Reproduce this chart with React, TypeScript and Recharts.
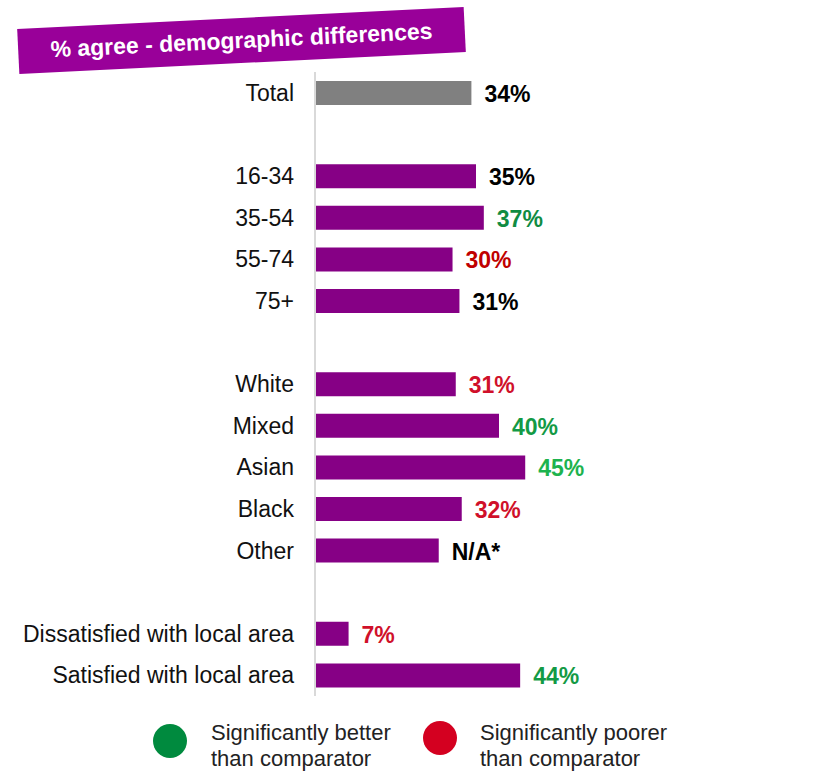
import { BarChart, Bar, XAxis, YAxis, Cell, LabelList } from 'recharts';

// rows, blank entries are spacer rows between groups
const categories = [
  'Total', ' ', '16-34', '35-54', '55-74', '75+', '  ',
  'White', 'Mixed', 'Asian', 'Black', 'Other', '   ',
  'Dissatisfied with local area', 'Satisfied with local area',
];
const values = [34, null, 35, 36.7, 29.9, 31.4, null, 30.6, 40, 45.7, 31.9, 26.9, null, 7.3, 44.6];
const labels = ['34%', '', '35%', '37%', '30%', '31%', '', '31%', '40%', '45%', '32%', 'N/A*', '', '7%', '44%'];
const labelColors = [
  '#000000', '', '#000000', '#108c42', '#c00000', '#000000', '',
  '#d0102a', '#139a45', '#1db34e', '#d0102a', '#000000', '',
  '#d0102a', '#139a45',
];

const data = categories.map((name, i) => ({
  id: i,
  name,
  value: values[i],
  label: labels[i],
  color: labelColors[i],
}));

const FONT = '"Liberation Sans", Arial, sans-serif';

const ValueLabel = (props: any) => {
  const { x, y, width, height, value } = props;
  const row = data[value];
  if (!row || !row.label) return null;
  return (
    <text
      x={x + width + 13}
      y={y + height / 2 + 1}
      dominantBaseline="central"
      fill={row.color}
      fontSize={23}
      fontWeight="bold"
      fontFamily={FONT}
    >
      {row.label}
    </text>
  );
};

export default function App() {
  return (
    <div style={{ position: 'absolute', left: 0, top: 0, width: 825, height: 774, background: '#fff', fontFamily: FONT }}>
      <div
        style={{
          position: 'absolute',
          left: 18,
          top: 18,
          width: 447,
          height: 45,
          background: '#990099',
          color: '#fff',
          fontWeight: 'bold',
          fontSize: 23,
          display: 'flex',
          alignItems: 'center',
          justifyContent: 'center',
          transform: 'rotate(-2.8deg)',
        }}
      >
        % agree - demographic differences
      </div>
      <BarChart
        width={825}
        height={720}
        data={data}
        layout="vertical"
        margin={{ top: 72, right: 50, bottom: 24, left: 0 }}
      >
        <XAxis type="number" domain={[0, 100]} hide />
        <YAxis
          type="category"
          dataKey="name"
          width={315}
          tickSize={0}
          tickMargin={21}
          tickLine={false}
          axisLine={{ stroke: '#d9d9d9', strokeWidth: 2 }}
          interval={0}
          tick={{ fill: '#111', fontSize: 23, fontFamily: FONT }}
        />
        <Bar dataKey="value" barSize={24} isAnimationActive={false}>
          {data.map((d, i) => (
            <Cell key={i} fill={d.name === 'Total' ? '#808080' : '#860085'} />
          ))}
          <LabelList dataKey="id" content={<ValueLabel />} />
        </Bar>
      </BarChart>
      <div style={{ position: 'absolute', left: 153, top: 724, width: 34, height: 34, borderRadius: '50%', background: '#008a3e' }} />
      <div style={{ position: 'absolute', left: 211, top: 720, fontSize: 22, lineHeight: '26px', color: '#222' }}>
        Significantly better
        <br />
        than comparator
      </div>
      <div style={{ position: 'absolute', left: 423, top: 721, width: 34, height: 34, borderRadius: '50%', background: '#d40020' }} />
      <div style={{ position: 'absolute', left: 480, top: 720, fontSize: 22, lineHeight: '26px', color: '#222' }}>
        Significantly poorer
        <br />
        than comparator
      </div>
    </div>
  );
}
